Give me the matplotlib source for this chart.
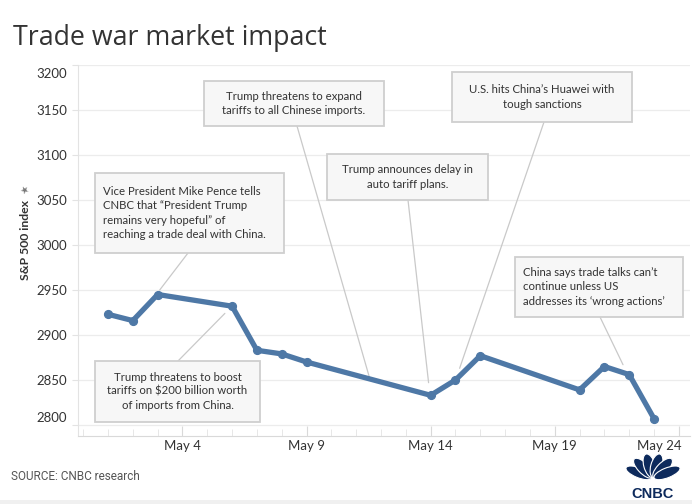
import matplotlib
matplotlib.use("Agg")
import numpy as np
import matplotlib.pyplot as plt
import matplotlib.dates as mdates
import pandas as pd
from matplotlib.patches import Rectangle, Ellipse
from matplotlib.transforms import ScaledTranslation

# ---------------- data ----------------
dates = ["2019-05-01", "2019-05-02", "2019-05-03", "2019-05-06", "2019-05-07",
         "2019-05-08", "2019-05-09", "2019-05-14", "2019-05-15", "2019-05-16",
         "2019-05-20", "2019-05-21", "2019-05-22", "2019-05-23"]
values = [2923, 2916, 2945, 2932, 2883, 2879, 2870, 2833, 2850, 2877,
          2839, 2865, 2856, 2807]
tick_dates = ["2019-05-04", "2019-05-09", "2019-05-14", "2019-05-19", "2019-05-24"]
tick_labels = ["May 4", "May 9", "May 14", "May 19", "May 24"]
y_ticks = [2800, 2850, 2900, 2950, 3000, 3050, 3100, 3150, 3200]

notes = [
    "Vice President Mike Pence tells\nCNBC that \u201cPresident Trump\nremains very hopeful\u201d of\nreaching a trade deal with China.",
    "Trump threatens to boost\ntariffs on $200 billion worth\nof imports from China.",
    "Trump threatens to expand\ntariffs to all Chinese imports.",
    "Trump announces delay in\nauto tariff plans.",
    "U.S. hits China\u2019s Huawei with\ntough sanctions",
    "China says trade talks can\u2019t\ncontinue unless US\naddresses its \u2018wrong actions\u2019",
]
# where each leader line touches the series (date, index level)
note_targets = [("2019-05-03 02:00", 2950), ("2019-05-05 17:00", 2924),
                ("2019-05-11 13:00", 2852), ("2019-05-13 22:00", 2847),
                ("2019-05-15 04:00", 2863), ("2019-05-21 18:00", 2867)]

# ---------------- layout (figure pixels, origin top-left) ----------------
W, H = 692, 504
boxes = [
    ((95, 173, 284, 253), 103, "left", (188, 253)),
    ((95, 361, 260, 422), 177.5, "center", (178, 361)),
    ((204, 81, 384, 126), 294, "center", (297, 126)),
    ((327, 154, 488, 200), 407.5, "center", (408, 200)),
    ((452, 72, 632, 122), 542, "center", (544, 122)),
    ((515, 257, 683, 317), 523, "left", (600, 317)),
]

TXT = "#333333"
LINE = "#4e78a6"
FONT = ["Lato", "DejaVu Sans"]

fig = plt.figure(figsize=(W / 100, H / 100), dpi=100)
fig.patch.set_facecolor("white")

ax_l, ax_r, ax_t, ax_b = 78, 690, 65, 436
ax = fig.add_axes([ax_l / W, 1 - ax_b / H, (ax_r - ax_l) / W, (ax_b - ax_t) / H])

x = pd.to_datetime(dates)
ax.plot(x, values, color=LINE, lw=3.8, marker="o", ms=5.6,
        solid_joinstyle="round", solid_capstyle="round", zorder=5)

d0 = mdates.date2num(pd.Timestamp("2019-05-01"))
ppd = 24.82  # px per day
ax.set_xlim(d0 - (108 - ax_l) / ppd, d0 + (ax_r - 108) / ppd)
ax.set_ylim(3200 - (ax_b - ax_t) / 0.9, 3200)

ax.set_xticks(mdates.date2num(pd.to_datetime(tick_dates)))
ax.set_xticklabels(tick_labels)
ax.xaxis.set_minor_locator(mdates.DayLocator())
ax.set_yticks(y_ticks)
ax.set_yticklabels([str(v) for v in y_ticks])

for s in ["top", "right"]:
    ax.spines[s].set_visible(False)
ax.spines["left"].set_color("#e3e3e3")
ax.spines["bottom"].set_color("#d9d9d9")
ax.spines["left"].set_linewidth(0.8)
ax.spines["bottom"].set_linewidth(0.8)
ax.grid(axis="y", color="#ececec", lw=0.9)
ax.set_axisbelow(True)
ax.tick_params(axis="y", length=4, color="#e3e3e3", pad=4, labelsize=9.5,
               labelcolor=TXT)
ax.tick_params(axis="x", which="major", direction="in", length=7, color="#d9d9d9",
               pad=3, labelsize=9.5, labelcolor=TXT)
ax.tick_params(axis="x", which="minor", direction="in", length=5, color="#e3e3e3")
for lab in ax.get_xticklabels() + ax.get_yticklabels():
    lab.set_family(FONT)

# Tableau-style clipping of end labels
ylabs = ax.get_yticklabels()
ylabs[-1].set_transform(ylabs[-1].get_transform() + ScaledTranslation(0, -8 / 100, fig.dpi_scale_trans))
ylabs[0].set_transform(ylabs[0].get_transform() + ScaledTranslation(0, 8 / 100, fig.dpi_scale_trans))
xlabs = ax.get_xticklabels()
xlabs[-1].set_transform(xlabs[-1].get_transform() + ScaledTranslation(-20 / 100, 0, fig.dpi_scale_trans))

# y label
fig.text(26 / W, 1 - 240 / H, "S&P 500 index", rotation=90, ha="center", va="center",
         fontsize=8.8, fontweight="bold", color=TXT, family=FONT)
fig.text(25 / W, 1 - 190 / H, "\u2605", ha="center", va="center", fontsize=7,
         color="#777777", family=["DejaVu Sans"], rotation=30)

# title
fig.text(13 / W, 1 - 45 / H, "Trade war market impact", ha="left", va="baseline",
         fontsize=19.3, color=TXT, family=["Open Sans", "DejaVu Sans"])

# annotations
for note, (box, tx, align, lstart), (td, tv) in zip(notes, boxes, note_targets):
    x0, y0, x1, y1 = box
    fig.patches.append(Rectangle((x0 / W, 1 - y1 / H), (x1 - x0) / W, (y1 - y0) / H,
                                 transform=fig.transFigure, facecolor="#f7f7f7",
                                 edgecolor="#cfcfcf", lw=1.3, zorder=6))
    fig.text(tx / W, 1 - (y0 + y1) / 2 / H, note, ha=align, va="center",
             multialignment=align, fontsize=8.2, color=TXT, family=FONT,
             linespacing=1.35, zorder=7)
    ax.annotate("", xy=(mdates.date2num(pd.Timestamp(td)), tv), xycoords="data",
                xytext=(lstart[0], H - lstart[1]), textcoords="figure pixels",
                arrowprops=dict(arrowstyle="-", color="#c9c9c9", lw=0.9,
                                shrinkA=0, shrinkB=0), zorder=4)

# source
fig.text(11 / W, 1 - 477 / H, "SOURCE: CNBC research", ha="left", va="center",
         fontsize=8.5, color="#555555",
         family=["Liberation Sans Narrow", "Roboto", "DejaVu Sans"])

# CNBC logo (approximation)
lg = fig.add_axes([623 / W, 1 - 501 / H, 60 / W, 47 / H])
lg.set_xlim(-1, 1)
lg.set_ylim(-0.8, 1.05)
lg.axis("off")
navy = "#0d2a5c"
for ang in [-64, -38, -13, 13, 38, 64]:
    a = np.deg2rad(ang)
    cx, cy = 0.52 * np.sin(a), 0.08 + 0.52 * np.cos(a)
    lg.add_patch(Ellipse((cx, cy), 0.38, 0.95, angle=-ang, facecolor=navy,
                         edgecolor="white", lw=0.8))
lg.text(0, -0.52, "CNBC", ha="center", va="center", fontsize=10.5,
        fontweight="heavy", color=navy, family=["Liberation Sans", "DejaVu Sans"])

fig.patches.append(Rectangle((0, 0), 1, 4 / H, transform=fig.transFigure,
                             facecolor="#f0f0f0", edgecolor="none"))

fig.savefig("out.png", dpi=100)
